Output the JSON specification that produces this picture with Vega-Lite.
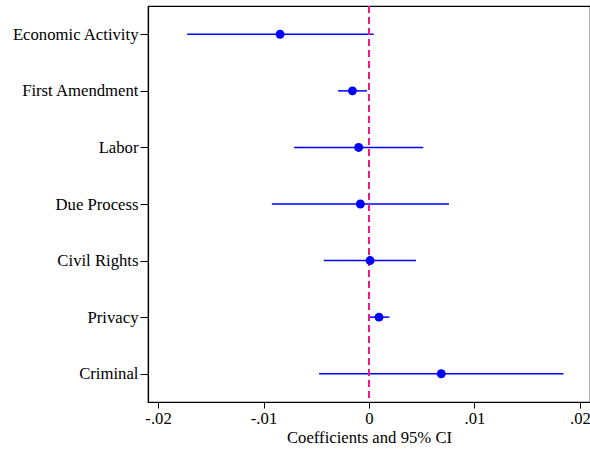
{
  "$schema": "https://vega.github.io/schema/vega-lite/v6.json",
  "width": 442,
  "height": 396,
  "autosize": {"type": "none"},
  "padding": {"left": 148, "top": 6, "right": 0, "bottom": 47},
  "background": "white",
  "config": {
    "view": {"stroke": "black", "strokeWidth": 1.2},
    "font": "Liberation Serif, Times New Roman, serif",
    "axis": {
      "labelFont": "Liberation Serif, Times New Roman, serif",
      "titleFont": "Liberation Serif, Times New Roman, serif",
      "labelColor": "black",
      "titleColor": "black",
      "domainColor": "black",
      "tickColor": "black",
      "grid": false
    }
  },
  "data": {
    "values": [
      {"category": "Economic Activity", "coef": -0.00843, "lo": -0.01723, "hi": 0.00045},
      {"category": "First Amendment", "coef": -0.00157, "lo": -0.00293, "hi": -0.00019},
      {"category": "Labor", "coef": -0.00098, "lo": -0.0071, "hi": 0.00515},
      {"category": "Due Process", "coef": -0.00082, "lo": -0.00921, "hi": 0.00758},
      {"category": "Civil Rights", "coef": 0.0001, "lo": -0.00429, "hi": 0.00445},
      {"category": "Privacy", "coef": 0.00095, "lo": 0.00001, "hi": 0.00193},
      {"category": "Criminal", "coef": 0.00685, "lo": -0.00473, "hi": 0.01844}
    ]
  },
  "layer": [
    {
      "mark": {"type": "rule", "color": "#0000ff", "strokeWidth": 1.5},
      "encoding": {
        "y": {
          "field": "category",
          "type": "nominal",
          "sort": null,
          "scale": {"type": "point", "padding": 0.5},
          "axis": {
            "title": null,
            "labelFontSize": 16.7,
            "tickSize": 8,
            "labelPadding": 2,
            "domainWidth": 1.2
          }
        },
        "x": {
          "field": "lo",
          "type": "quantitative",
          "scale": {"domain": [-0.02095, 0.02095], "nice": false, "zero": false},
          "axis": {
            "title": "Coefficients and 95% CI",
            "titleFontSize": 16.7,
            "titleFontWeight": "normal",
            "titlePadding": 3,
            "labelFontSize": 16.7,
            "tickSize": 6,
            "labelPadding": 2,
            "domainWidth": 1.2,
            "values": [-0.02, -0.01, 0, 0.01, 0.02],
            "labelExpr": "abs(datum.value) < 1e-9 ? '0' : (datum.value < 0 ? '-' : '') + replace(format(abs(datum.value), '.2f'), '0.', '.')"
          }
        },
        "x2": {"field": "hi"}
      }
    },
    {
      "mark": {"type": "rule", "color": "#f0198a", "strokeWidth": 1.2, "strokeDash": [7, 4]},
      "encoding": {"x": {"datum": 0}}
    },
    {
      "mark": {"type": "point", "filled": true, "color": "#0000ff", "opacity": 1, "size": 80},
      "encoding": {
        "y": {"field": "category", "type": "nominal", "sort": null},
        "x": {"field": "coef", "type": "quantitative"}
      }
    }
  ]
}
